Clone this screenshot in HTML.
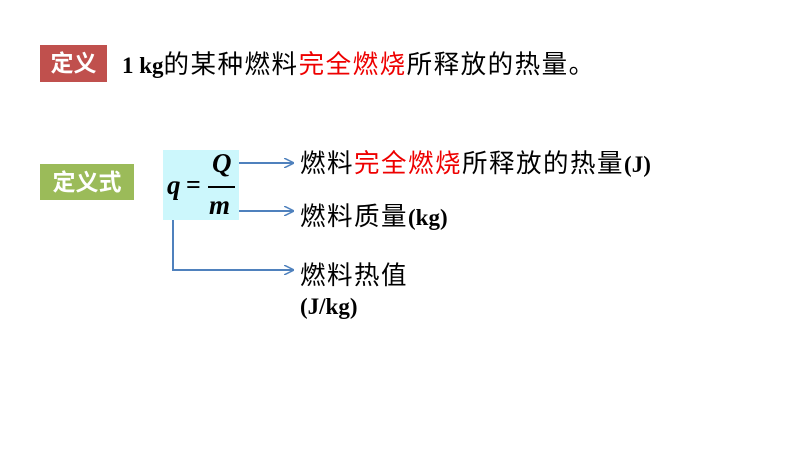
<!DOCTYPE html>
<html><head><meta charset="utf-8"><style>
body{margin:0;width:800px;height:450px;background:#fff;position:relative;overflow:hidden;font-family:"Liberation Serif","Noto Serif CJK SC",serif;}
.a{position:absolute;white-space:nowrap;}
.tag{color:#fff;font-family:"Liberation Sans","Noto Sans CJK SC",sans-serif;font-weight:bold;font-size:23px;text-align:center;}
.t{font-size:23px;font-weight:bold;color:#000;font-family:"Liberation Serif","Noto Sans CJK SC",serif;}
.c{font-weight:normal;font-size:25.5px;letter-spacing:1.5px;}
.r{color:#e00;}
</style></head><body>
<div class="a tag" style="left:40px;top:45px;width:67px;height:37px;line-height:37px;background:#c0504d;">定义</div>
<div class="a t" style="left:122px;top:50px;line-height:30px;">1 kg<span class="c">的某种燃料<span class="r">完全燃烧</span>所释放的热量。</span></div>
<div class="a tag" style="left:40px;top:164px;width:94px;height:36px;line-height:36px;background:#9bbb59;">定义式</div>
<div class="a" style="left:163px;top:150px;width:76px;height:70px;background:#ccf7fc;"></div>
<div class="a" style="left:167px;top:170px;font-size:27px;font-weight:bold;font-style:italic;">q</div>
<div class="a" style="left:186px;top:170px;font-size:26px;font-weight:bold;">=</div>
<div class="a" style="left:212px;top:148px;font-size:27px;font-weight:bold;font-style:italic;">Q</div>
<div class="a" style="left:208px;top:186px;width:27px;height:2px;background:#000;"></div>
<div class="a" style="left:209px;top:190px;font-size:27px;font-weight:bold;font-style:italic;">m</div>
<svg class="a" style="left:0;top:0" width="800" height="450">
<defs><marker id="m" markerWidth="10" markerHeight="10" refX="9" refY="5" orient="auto" markerUnits="userSpaceOnUse"><path d="M0,0 L10,5 L0,10" fill="none" stroke="#4f81bd" stroke-width="1.5"/></marker></defs>
<g stroke="#4f81bd" stroke-width="2" fill="none">
<line x1="239" y1="163" x2="293" y2="163" marker-end="url(#m)"/>
<line x1="239" y1="211" x2="293" y2="211" marker-end="url(#m)"/>
<polyline points="173,220 173,270 293,270" marker-end="url(#m)"/>
</g></svg>
<div class="a t" style="left:300px;top:150px;line-height:28px;"><span class="c">燃料<span class="r">完全燃烧</span>所释放的热量</span>(J)</div>
<div class="a t" style="left:300px;top:203px;line-height:28px;"><span class="c">燃料质量</span>(kg)</div>
<div class="a t" style="left:300px;top:262px;line-height:28px;"><span class="c">燃料热值</span></div>
<div class="a t" style="left:300px;top:293px;line-height:28px;">(J/kg)</div>
</body></html>
